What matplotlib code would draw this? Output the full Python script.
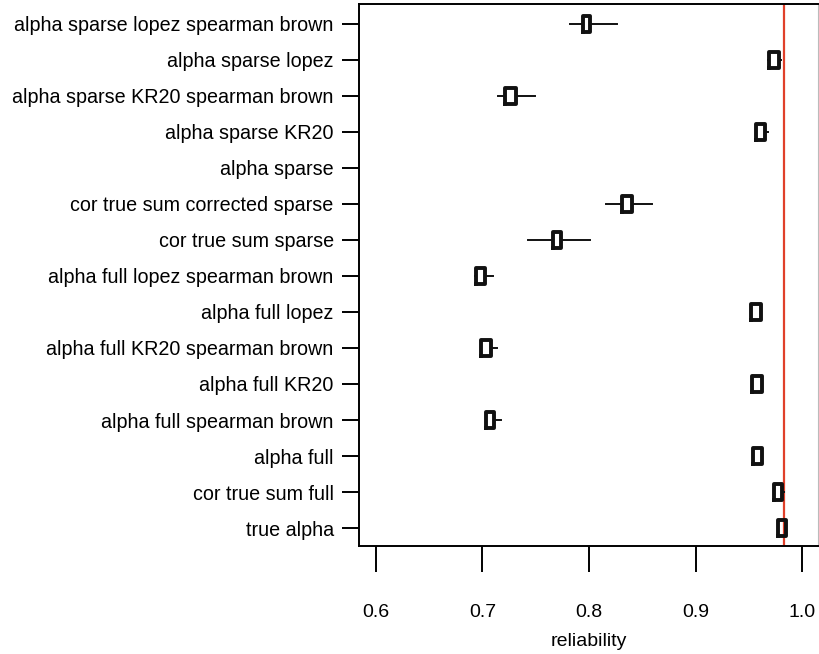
import matplotlib
matplotlib.use("Agg")
import matplotlib.pyplot as plt

plt.rcParams["font.family"] = ["Liberation Sans", "DejaVu Sans"]

# rows from top to bottom
labels = [
    "alpha sparse lopez spearman brown",
    "alpha sparse lopez",
    "alpha sparse KR20 spearman brown",
    "alpha sparse KR20",
    "alpha sparse",
    "cor true sum corrected sparse",
    "cor true sum sparse",
    "alpha full lopez spearman brown",
    "alpha full lopez",
    "alpha full KR20 spearman brown",
    "alpha full KR20",
    "alpha full spearman brown",
    "alpha full",
    "cor true sum full",
    "true alpha",
]
# five-number summaries (whisker low, q1, median, q3, whisker high); None = no data
wlo = [0.782, 0.968, 0.715, 0.957, None, 0.816, 0.743, 0.693, 0.952, 0.699, 0.953, 0.703, 0.954, 0.974, 0.977]
q1 = [0.794, 0.969, 0.721, 0.957, None, 0.831, 0.766, 0.694, 0.952, 0.699, 0.953, 0.703, 0.954, 0.974, 0.977]
med = [0.797, 0.973, 0.726, 0.961, None, 0.835, 0.770, 0.698, 0.956, 0.703, 0.957, 0.707, 0.958, 0.977, 0.981]
q3 = [0.801, 0.978, 0.732, 0.965, None, 0.840, 0.774, 0.702, 0.961, 0.708, 0.962, 0.711, 0.962, 0.981, 0.985]
whi = [0.826, 0.980, 0.749, 0.968, None, 0.859, 0.801, 0.710, 0.961, 0.714, 0.962, 0.717, 0.962, 0.983, 0.985]
ref_line = 0.983
x_ticks = [0.6, 0.7, 0.8, 0.9, 1.0]

fig = plt.figure(figsize=(8.19, 6.54), dpi=100)
ax = fig.add_axes([0.438, 0.165, 0.561, 0.829])

n = len(labels)
pos = list(range(n, 0, -1))
stats, stat_pos = [], []
for i in range(n):
    if med[i] is None:
        continue
    stats.append(dict(whislo=wlo[i], q1=q1[i], med=med[i], q3=q3[i], whishi=whi[i]))
    stat_pos.append(pos[i])

ax.bxp(stats, positions=stat_pos, vert=False, widths=0.45, showfliers=False,
       showcaps=False,
       boxprops=dict(color="#111111", linewidth=2.8),
       medianprops=dict(color="#111111", linewidth=0),
       whiskerprops=dict(color="#111111", linewidth=1.4))

ax.axvline(ref_line, color="#e0402a", linewidth=1.6, zorder=0)

ax.set_ylim(0.5, n + 0.55)
ax.set_xlim(0.584, 1.015)
ax.set_yticks(pos)
ax.set_yticklabels(labels, fontsize=14.2)
ax.set_xticks(x_ticks)
ax.set_xticklabels([f"{t:.1f}" for t in x_ticks], fontsize=14)
ax.tick_params(axis="y", length=12, width=1.4, pad=6)
ax.tick_params(axis="x", length=19, width=1.4, pad=23)
ax.set_xlabel("reliability", fontsize=14, labelpad=8)
for s in ["left", "top", "bottom"]:
    ax.spines[s].set_linewidth(1.4)
ax.spines["right"].set_color("#bbbbbb")

fig.savefig("out.png", dpi=100)
